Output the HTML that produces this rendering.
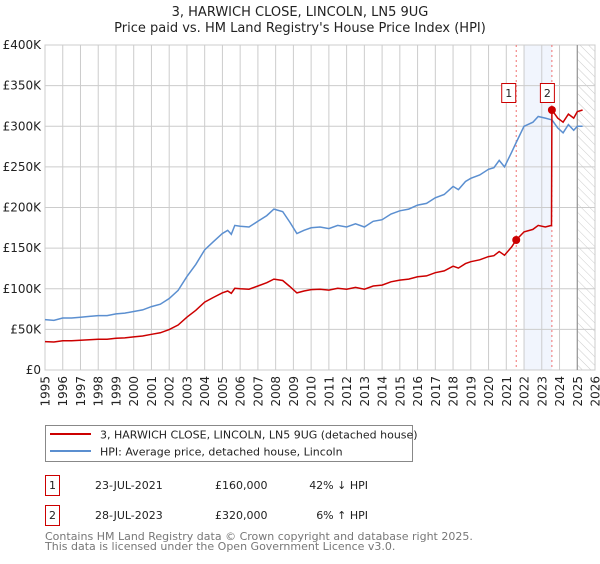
<!DOCTYPE html>
<html><head><meta charset="utf-8"><style>
body{margin:0;background:#fff;width:600px;height:560px;overflow:hidden;font-family:"DejaVu Sans","Liberation Sans",sans-serif;}
svg text{font-family:"DejaVu Sans","Liberation Sans",sans-serif;}
</style></head><body>
<svg id="chart" width="600" height="560" viewBox="0 0 600 560" xmlns="http://www.w3.org/2000/svg">
<defs><pattern id="hatch" width="6" height="6" patternUnits="userSpaceOnUse" patternTransform="rotate(-45)"><line x1="0" y1="0" x2="0" y2="6" stroke="#ccc" stroke-width="1"/></pattern></defs>
<text x="300" y="16" text-anchor="middle" font-size="13" fill="#222">3, HARWICH CLOSE, LINCOLN, LN5 9UG</text>
<text x="300" y="32" text-anchor="middle" font-size="13" fill="#222">Price paid vs. HM Land Registry's House Price Index (HPI)</text>
<g id="grid"></g><g id="marks"></g><g id="axes"></g>
<rect x="45.5" y="425.5" width="367" height="36" fill="#fff" stroke="#888"/>
<line x1="50" y1="434" x2="91" y2="434" stroke="#cc0000" stroke-width="2"/>
<text x="100" y="438.5" font-size="11" fill="#222">3, HARWICH CLOSE, LINCOLN, LN5 9UG (detached house)</text>
<line x1="50" y1="451" x2="91" y2="451" stroke="#5b8fd0" stroke-width="2"/>
<text x="100" y="455.5" font-size="11" fill="#222">HPI: Average price, detached house, Lincoln</text>
<g font-size="11" fill="#222">
<rect x="45.5" y="475.5" width="14" height="20" fill="#fff" stroke="#cc0000"/>
<text x="52.5" y="489" text-anchor="middle">1</text>
<text x="95" y="489">23-JUL-2021</text><text x="215" y="489">£160,000</text><text x="368" y="489" text-anchor="end">42% ↓ HPI</text></g>
<g font-size="11" fill="#222">
<rect x="45.5" y="505.5" width="14" height="20" fill="#fff" stroke="#cc0000"/>
<text x="52.5" y="519" text-anchor="middle">2</text>
<text x="95" y="519">28-JUL-2023</text><text x="215" y="519">£320,000</text><text x="368" y="519" text-anchor="end">6% ↑ HPI</text></g>
<text x="45" y="540" font-size="11" fill="#777">Contains HM Land Registry data © Crown copyright and database right 2025.</text>
<text x="45" y="550" font-size="11" fill="#777">This data is licensed under the Open Government Licence v3.0.</text>
</svg>
<script>
const dates=[1995.0,1995.5,1996,1996.5,1997,1997.5,1998,1998.5,1999,1999.5,2000,2000.5,2001,2001.5,2002,2002.5,2003,2003.5,2004,2004.5,2005,2005.3,2005.5,2005.7,2006,2006.5,2007,2007.5,2007.9,2008.4,2008.8,2009.2,2009.6,2010,2010.5,2011,2011.5,2012,2012.5,2013,2013.5,2014,2014.5,2015,2015.5,2016,2016.5,2017,2017.5,2018,2018.3,2018.7,2019,2019.5,2020,2020.3,2020.6,2020.9,2021.3,2021.56,2022,2022.5,2022.8,2023.2,2023.55,2023.57,2023.9,2024.2,2024.5,2024.8,2025.0,2025.3];
const hpiValues=[62,61,64,64,65,66,67,67,69,70,72,74,78,81,88,98,115,130,148,158,168,172,167,178,177,176,183,190,198,195,182,168,172,175,176,174,178,176,180,176,183,185,192,196,198,203,205,212,216,226,222,232,236,240,247,249,258,250,268,280,300,305,312,310,308,308,298,292,302,295,300,300];
const paidValues=[35,34.5,36,36,36.7,37.3,37.9,37.9,39,39.5,40.7,41.8,44,45.8,49.7,55.4,65,73.5,83.6,89.3,95,97.2,94.4,100.6,100,99.4,103.4,107.4,111.9,110.2,102.8,94.9,97.2,98.9,99.4,98.3,100.6,99.4,101.7,99.4,103.4,104.5,108.5,110.7,111.9,114.7,115.8,119.8,122,127.7,125.4,131,133.3,135.6,139.6,140.7,145.8,141.3,151.4,160,170,173,178,176,178,320,310,305,315,310,318,320];
const saleDates=[2021.56,2023.57];
const saleValues=[160,320];
const saleLabels=["1","2"];
const yTicks=[0,50,100,150,200,250,300,350,400];
const yTickLabels=["£0","£50K","£100K","£150K","£200K","£250K","£300K","£350K","£400K"];
const xTicks=[1995,1996,1997,1998,1999,2000,2001,2002,2003,2004,2005,2006,2007,2008,2009,2010,2011,2012,2013,2014,2015,2016,2017,2018,2019,2020,2021,2022,2023,2024,2025,2026];

const L=45,R=595,T=45,B=370,x0=1995,x1=2026,ymax=400;
const X=d=>L+(d-x0)/(x1-x0)*(R-L);
const Y=v=>B-v/ymax*(B-T);
const NS="http://www.w3.org/2000/svg";
function mk(p,tag,at){const e=document.createElementNS(NS,tag);for(const k in at)e.setAttribute(k,at[k]);p.appendChild(e);return e;}
const grid=document.getElementById('grid'),marks=document.getElementById('marks'),axes=document.getElementById('axes');
const bg=mk(grid,'rect',{x:L,y:T,width:R-L,height:B-T,fill:'#fff',stroke:'#ccc'});


const sh=mk(grid,'rect',{x:X(2022),y:T,width:X(saleDates[1])-X(2022),height:B-T,fill:'#eef3fc',opacity:0.8});


const ht=mk(grid,'rect',{x:X(2025),y:T,width:R-X(2025),height:B-T,fill:'url(#hatch)'});


xTicks.forEach(t=>{mk(grid,'line',{x1:X(t),y1:T,x2:X(t),y2:B,stroke:'#ccc'});
 const tx=mk(axes,'text',{x:0,y:0,'text-anchor':'end','font-size':12,fill:'#222',transform:'translate('+(X(t)+4.5)+','+(B+6)+') rotate(-90)'});tx.textContent=t;
 
 });
yTicks.forEach((t,i)=>{mk(grid,'line',{x1:L,y1:Y(t),x2:R,y2:Y(t),stroke:'#ccc'});
 const tx=mk(axes,'text',{x:L-4,y:Y(t)+4,'text-anchor':'end','font-size':12,fill:'#222'});tx.textContent=yTickLabels[i];
 
 });
mk(grid,'line',{x1:X(2025),y1:T,x2:X(2025),y2:B,stroke:'#888'});
saleDates.forEach(d=>{mk(grid,'line',{x1:X(d),y1:T,x2:X(d),y2:B,stroke:'#f07070','stroke-dasharray':'2,3'});});
const pts=v=>dates.map((d,i)=>X(d).toFixed(1)+','+Y(v[i]).toFixed(1)).join(' ');
const hl=mk(marks,'polyline',{points:pts(hpiValues),fill:'none',stroke:'#5b8fd0','stroke-width':1.5});


const pl=mk(marks,'polyline',{points:pts(paidValues),fill:'none',stroke:'#cc0000','stroke-width':1.5});


saleDates.forEach((d,i)=>{
 const c=mk(marks,'circle',{cx:X(d),cy:Y(saleValues[i]),r:4,fill:'#cc0000'});
 
 
 const g=mk(marks,'g',{});
 
 
 mk(g,'rect',{x:X(d)-21.5+(i?10:7),y:83.5,width:14,height:19,fill:'#fff',stroke:'#cc0000'});
 const t=mk(g,'text',{x:X(d)-14.5+(i?10:7),y:97,'text-anchor':'middle','font-size':11,fill:'#222'});t.textContent=saleLabels[i];
});
</script>
</body></html>
